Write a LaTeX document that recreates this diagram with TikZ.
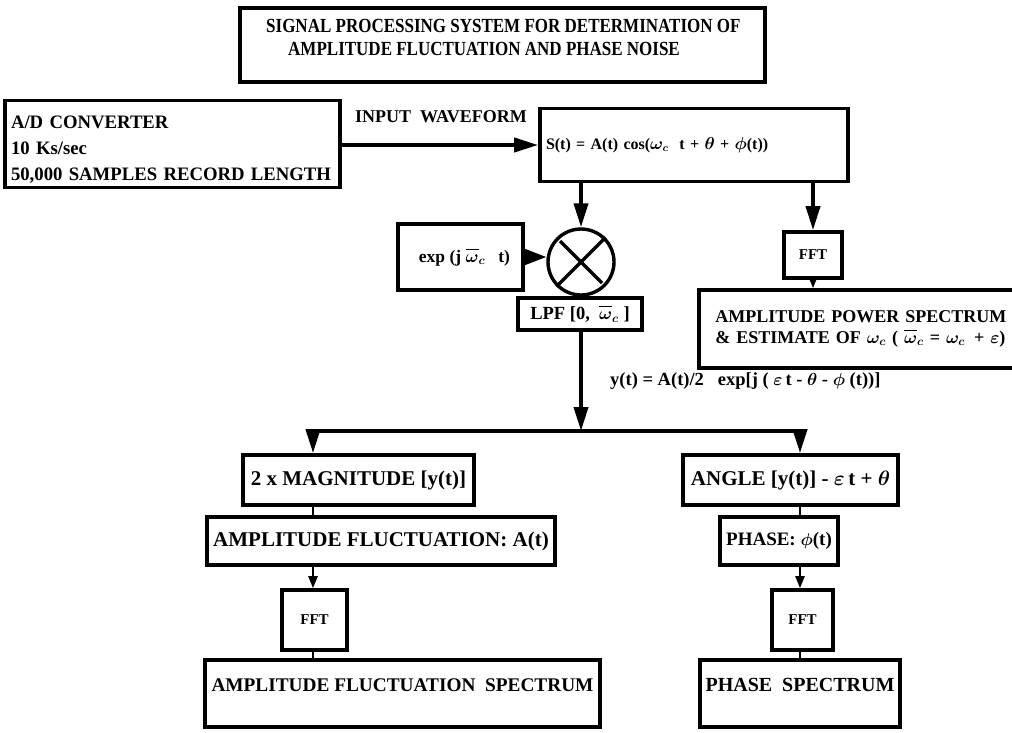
\documentclass[tikz,border=0pt]{standalone}
\usepackage{fontspec}
\setmainfont{Liberation Serif}
\newfontfamily\headfont[FakeStretch=0.85]{Liberation Serif}
\newfontfamily\narrowfont[FakeStretch=0.985]{Liberation Serif}
\newcommand{\wbar}{\overline{\vphantom{b}\omega}}
\usetikzlibrary{arrows.meta}

\begin{document}
\begin{tikzpicture}[x=1pt,y=-1pt,
		blk/.style={draw,line width=3.6pt,inner sep=0pt,font=\bfseries\boldmath\fontsize{20}{24}\selectfont},
		big/.style={-{Triangle[length=24pt,width=14pt]},line width=3.8pt},
		small/.style={-{Triangle[length=12pt,width=9pt]},line width=2.4pt},
		link/.style={line width=2.4pt}]

		\useasboundingbox (0,0) rectangle (1012,732);

		% heading
		\node[blk,minimum width=525pt,minimum height=74pt] (title) at (502.5,45) {};
		\node[anchor=north west,inner sep=0pt,align=left,font=\headfont\bfseries\fontsize{20}{23.5}\selectfont] (titletxt) at (266,19)
			{SIGNAL PROCESSING SYSTEM FOR DETERMINATION OF\\\hspace*{22pt}AMPLITUDE FLUCTUATION AND PHASE NOISE};

		% input side
		\node[blk,minimum width=335pt,minimum height=87pt,text width=323pt,text height=23pt,align=left,font=\narrowfont\bfseries\fontsize{19}{26}\selectfont] (adc) at (172.5,144)
			{A/D CONVERTER\\10 Ks/sec\\50,000 SAMPLES RECORD LENGTH};
		\node[blk,minimum width=308pt,minimum height=73pt,text width=296pt,align=left,font=\bfseries\boldmath\fontsize{16}{19}\selectfont] (sig) at (694,145)
			{S(t) = A(t) cos($\omega_c$\ \ t + $\theta$ + $\phi$(t))};
		\draw[big] (adc.east |- sig.west) -- (sig.west);
		\node[anchor=west,inner sep=0pt,font=\bfseries\fontsize{18}{20}\selectfont] (inlbl) at (355,117) {INPUT\ \ WAVEFORM};

		% mixer branch
		\node[draw,circle,line width=3.4pt,minimum size=66pt,inner sep=0pt] (mix) at (581,262) {};
		\draw[line width=3.4pt,shorten <=5pt,shorten >=5pt] (mix.45) -- (mix.225) (mix.135) -- (mix.315);
		\node[blk,minimum width=125pt,minimum height=66pt,font=\bfseries\boldmath\fontsize{17.5}{20}\selectfont] (expo) at (460.5,257)
			{\hspace*{8pt}exp (j $\wbar_c$\ \ \ t)};
		\node[blk,minimum width=124pt,minimum height=32pt,font=\bfseries\boldmath\fontsize{18.5}{20}\selectfont] (lpf) at (580,314)
			{LPF [0,\ \ $\wbar_c$\ ]};
		\draw[big] (sig.south -| mix) -- (mix.north);
		\draw[-{Triangle[length=22pt,width=16pt]},line width=3pt] (expo.east) -- (expo.east -| mix.west);
		\draw[line width=3pt] (mix.south) -- (lpf.north -| mix);

		% spectrum branch
		\node[blk,minimum width=58pt,minimum height=46pt,font=\bfseries\fontsize{15}{18}\selectfont] (ffta) at (813,255) {FFT};
		\node[blk,anchor=west,minimum width=333pt,minimum height=78pt,text width=300pt,align=left,font=\bfseries\boldmath\fontsize{18}{20.5}\selectfont] (aps) at (697,329)
			{AMPLITUDE POWER SPECTRUM\\\& ESTIMATE OF $\omega_c$ ( $\wbar_c$ = $\omega_c$ \,+ $\varepsilon$)};
		\draw[big] (sig.south -| ffta) -- (ffta.north);
		\draw[small] (ffta.south) -- (aps.north -| ffta);

		% split of y(t)
		\coordinate (split) at (581,431);
		\coordinate (bl) at (313,431);
		\coordinate (br) at (800,431);
		\draw[big] (lpf.south -| split) -- (split);
		\node[anchor=west,inner sep=0pt,font=\bfseries\boldmath\fontsize{18.5}{20}\selectfont] (ylbl) at (610,381)
			{y(t) = A(t)/2\ \ \ exp[j ( $\varepsilon$\,t - $\theta$ - $\phi$ (t))]};
		\draw[line width=3.8pt] (bl) -- (br);

		% amplitude column
		\node[blk,minimum width=231pt,minimum height=50pt,font=\bfseries\fontsize{21}{24}\selectfont] (mag) at (358.5,480) {2 x MAGNITUDE [y(t)]};
		\node[blk,minimum width=348pt,minimum height=48pt,font=\bfseries\fontsize{21}{24}\selectfont] (afl) at (381,541) {AMPLITUDE\ FLUCTUATION: A(t)};
		\node[blk,minimum width=65pt,minimum height=60pt,font=\bfseries\fontsize{15}{18}\selectfont] (fftb) at (314.5,620) {FFT};
		\node[blk,minimum width=395pt,minimum height=67pt,text height=13pt,text depth=18pt,font=\bfseries\fontsize{19.3}{24}\selectfont] (afs) at (402.5,693.5) {AMPLITUDE FLUCTUATION\ \ SPECTRUM};
		\draw[big] (bl) -- (bl |- mag.north);
		\draw[link] (bl |- mag.south) -- (bl |- afl.north);
		\draw[small] (bl |- afl.south) -- (bl |- fftb.north);
		\draw[link] (bl |- fftb.south) -- (bl |- afs.north);

		% phase column
		\node[blk,minimum width=215pt,minimum height=50pt,font=\bfseries\boldmath\fontsize{21}{24}\selectfont] (ang) at (790.5,480) {ANGLE [y(t)] - $\varepsilon$\,t + $\theta$};
		\node[blk,minimum width=118pt,minimum height=48pt,font=\bfseries\boldmath\fontsize{19}{24}\selectfont] (pha) at (779,541) {PHASE: $\phi$(t)};
		\node[blk,minimum width=61pt,minimum height=60pt,font=\bfseries\fontsize{15}{18}\selectfont] (fftc) at (802.5,620) {FFT};
		\node[blk,minimum width=200pt,minimum height=67pt,text height=13pt,text depth=18pt] (psp) at (800,693.5) {PHASE\ \ SPECTRUM};
		\draw[big] (br) -- (br |- ang.north);
		\draw[link] (br |- ang.south) -- (br |- pha.north);
		\draw[small] (br |- pha.south) -- (br |- fftc.north);
		\draw[link] (br |- fftc.south) -- (br |- psp.north);

	\end{tikzpicture}
\end{document}
